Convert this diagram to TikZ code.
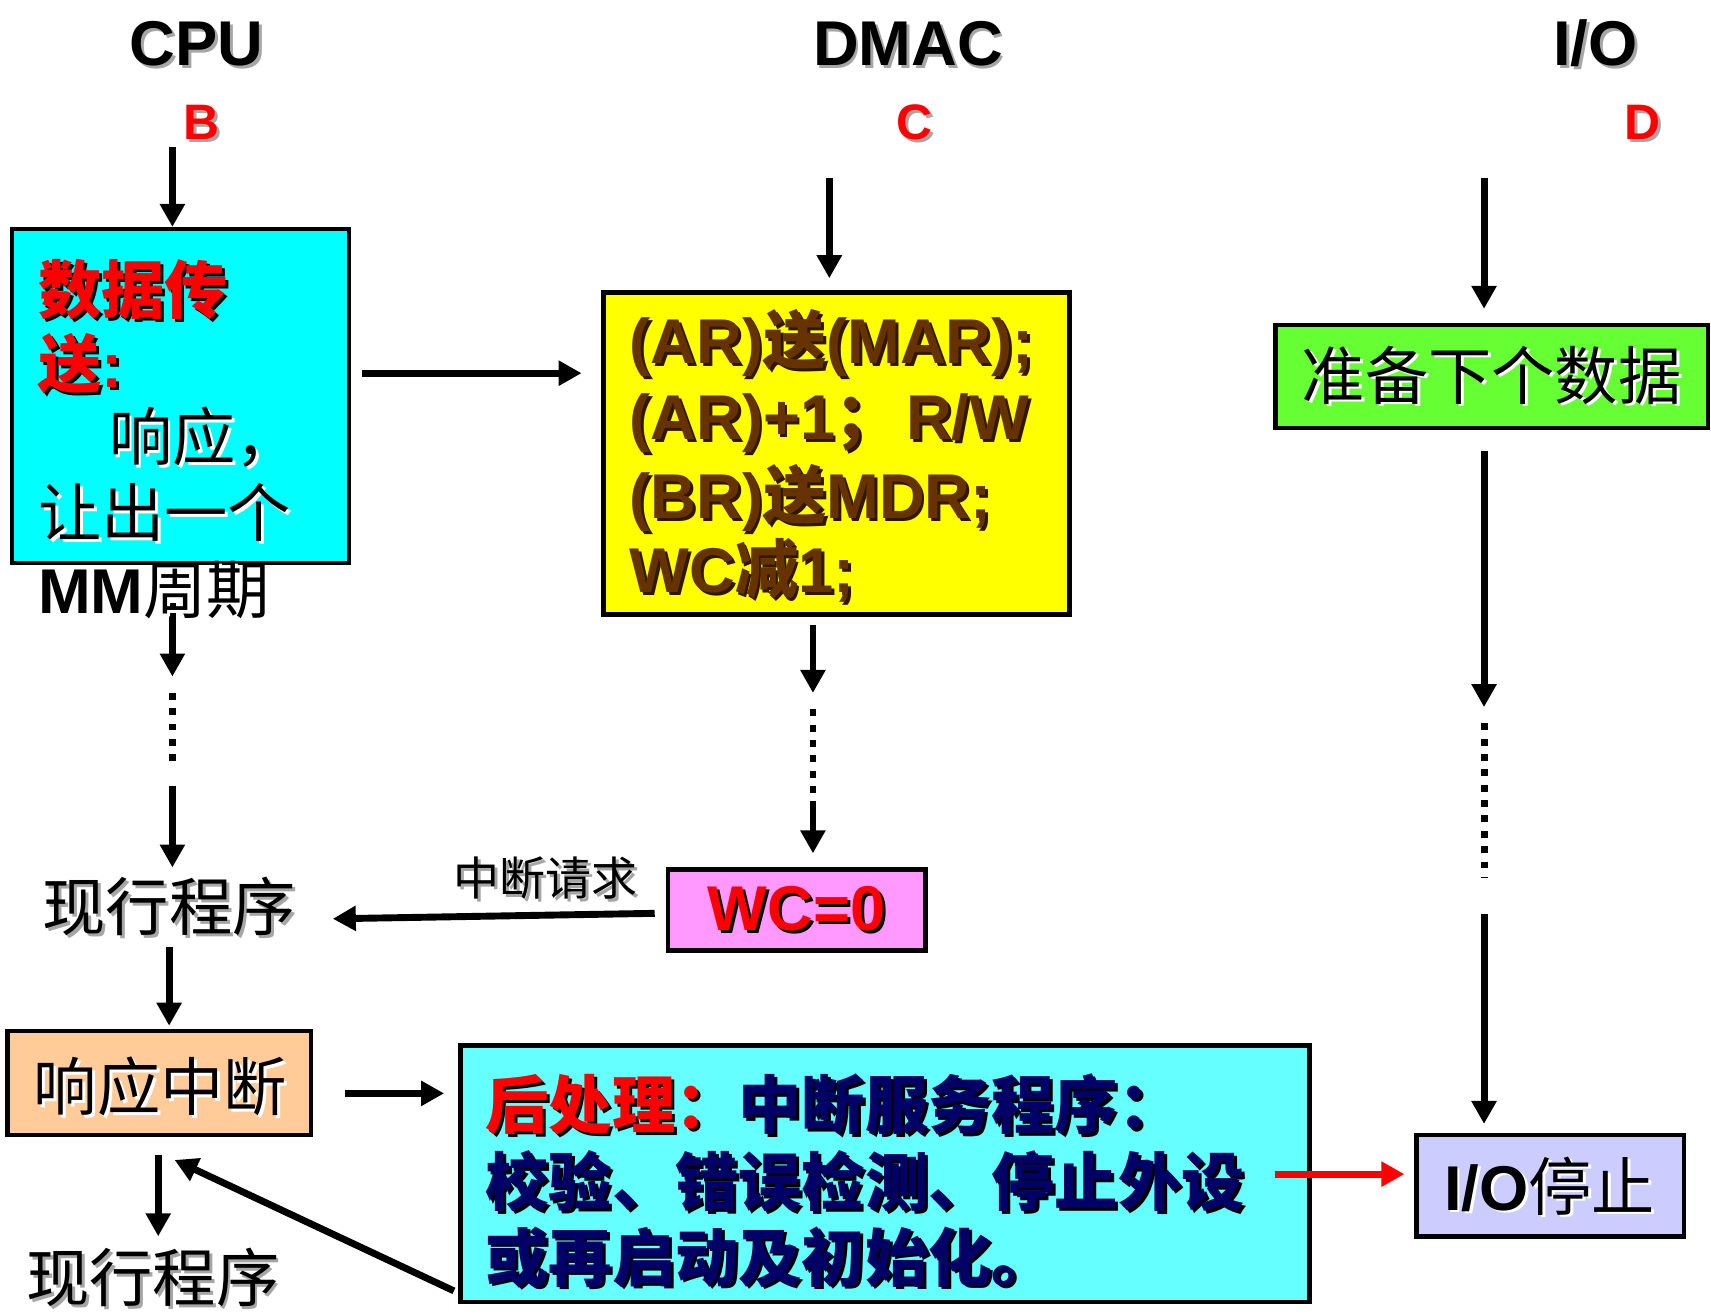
\documentclass[tikz,border=0pt]{standalone}
\usepackage{fontspec}
\setmainfont{Liberation Sans}
\newfontfamily\cjk{Noto Sans CJK SC}
\usetikzlibrary{arrows.meta,fit}
\definecolor{cyanA}{HTML}{00FFFF}
\definecolor{cyanB}{HTML}{66FFFF}
\definecolor{yellowA}{HTML}{FFFF00}
\definecolor{brownA}{HTML}{663300}
\definecolor{greenA}{HTML}{66FF33}
\definecolor{pinkA}{HTML}{FF99FF}
\definecolor{peachA}{HTML}{FFCC99}
\definecolor{lavA}{HTML}{CCCCFF}
\definecolor{navyA}{HTML}{000066}
\definecolor{redA}{HTML}{FF0000}
\definecolor{shgray}{HTML}{A6A6A6}
\definecolor{shbrown}{HTML}{2E1800}
\newcommand\sd[2]{\leavevmode\rlap{\kern1.5pt\lower1.5pt\hbox{\color{#1}#2}}#2}
\newcommand\fsA{\fontsize{33pt}{39pt}\selectfont}
\newcommand\fsB{\fontsize{26pt}{30pt}\selectfont}
\newcommand\fsC{\fontsize{24pt}{28pt}\selectfont}
\begin{document}
\begin{tikzpicture}[x=0.02cm,y=-0.02cm,
  box/.style={draw=black,line width=2.3pt,inner sep=0pt},
  txt/.style={inner sep=0pt,outer sep=0pt,font=\fsA},
  arr/.style={line width=3.6pt,-{Triangle[width=12.5pt,length=12pt]}},
  dots/.style={line width=3.6pt,dash pattern=on 3.6pt off 4.4pt}]
\useasboundingbox (0,0) rectangle (1568,1206);

% boxes
\node[box,fill=cyanA,fit={(11,210)(320,516)}] (cpu) {};
\node[box,fill=yellowA,fit={(553,268)(980,563)}] (dmac) {};
\node[box,fill=greenA,fit={(1169,298)(1565,392)}] (prep) {};
\node[box,fill=pinkA,fit={(612,797)(848,871)}] (wc) {};
\node[box,fill=peachA,fit={(7,945)(285,1040)}] (resp) {};
\node[box,fill=cyanB,fit={(422,958)(1200,1193)}] (post) {};
\node[box,fill=lavA,fit={(1298,1040)(1543,1133)}] (iostop) {};

% coordinates for free ends
\coordinate (b0) at (158,135);
\coordinate (c0) at (760,163);
\coordinate (c1) at (760,255);
\coordinate (d0) at (1360,163);
\coordinate (d1) at (1360,283);
\coordinate (h0) at (332,342);
\coordinate (h1) at (533,342);
\coordinate (p1) at (158,553);
\coordinate (p2) at (158,620);
\coordinate (p3) at (158,635);
\coordinate (p4) at (158,700);
\coordinate (p5) at (158,720);
\coordinate (p6) at (158,795);
\coordinate (m1) at (745,573);
\coordinate (m2) at (745,635);
\coordinate (m3) at (745,650);
\coordinate (m4) at (745,735);
\coordinate (m5) at (745,782);
\coordinate (r1) at (1360,413);
\coordinate (r2) at (1360,648);
\coordinate (r3) at (1360,663);
\coordinate (r4) at (1360,805);
\coordinate (r5) at (1360,838);
\coordinate (r6) at (1360,1030);
\coordinate (w0) at (600,837);
\coordinate (w1) at (305,842);
\coordinate (q0) at (155,868);
\coordinate (q1) at (155,940);
\coordinate (s0) at (316,1002);
\coordinate (s1) at (407,1002);
\coordinate (t0) at (145,1058);
\coordinate (t1) at (145,1133);
\coordinate (u0) at (416,1183);
\coordinate (u1) at (160,1063);
\coordinate (v0) at (1168,1076);
\coordinate (v1) at (1287,1076);

% connectors
\draw[arr] (b0) -- (b0 |- cpu.north);
\draw[arr] (c0) -- (c1);
\draw[arr] (d0) -- (d1);
\draw[arr] (h0) -- (h1);
\draw[arr] (p1) -- (p2);
\draw[dots] (p3) -- (p4);
\draw[arr] (p5) -- (p6);
\draw[arr] (m1) -- (m2);
\draw[dots] (m3) -- (m4);
\draw[arr] (m4) -- (m5);
\draw[arr] (r1) -- (r2);
\draw[dots] (r3) -- (r4);
\draw[arr] (r5) -- (r6);
\draw[arr] (w0) -- (w1);
\draw[arr] (q0) -- (q1);
\draw[arr] (s0) -- (s1);
\draw[arr] (t0) -- (t1);
\draw[arr] (u0) -- (u1);
\draw[arr,draw=redA,fill=redA] (v0) -- (v1);

% titles
\node[txt,anchor=base] (tcpu) at (180,60) {\sd{shgray}{\bfseries CPU}};
\node[txt,anchor=base] (tdmac) at (832,60) {\sd{shgray}{\bfseries DMAC}};
\node[txt,anchor=base] (tio) at (1462,60) {\sd{shgray}{\bfseries I/O}};
\node[txt,anchor=base,font=\fsB,text=redA] (lb) at (185,128) {\sd{shgray}{\bfseries B}};
\node[txt,anchor=base,font=\fsB,text=redA] (lc) at (838,128) {\sd{shgray}{\bfseries C}};
\node[txt,anchor=base,font=\fsB,text=redA] (ld) at (1505,128) {\sd{shgray}{\bfseries D}};

% CPU box text
\node[txt,anchor=base west,text=redA] (ct1) at (35,287) {\sd{black}{\cjk\bfseries 数据传}};
\node[txt,anchor=base west,text=redA] (ct2) at (35,355) {\sd{black}{{\cjk\bfseries 送}\bfseries :}};
\node[txt,anchor=base west] (ct3) at (100,422) {\sd{white}{\cjk 响应，}};
\node[txt,anchor=base west] (ct4) at (35,492) {\sd{white}{\cjk 让出一个}};
\node[txt,anchor=base west] (ct5) at (35,562) {\sd{white}{{\bfseries MM}{\cjk 周期}}};

% DMAC box text
\node[txt,anchor=base west,text=brownA] (dt1) at (577,333) {\sd{shbrown}{\bfseries (AR){\cjk 送}(MAR);}};
\node[txt,anchor=base west,text=brownA] (dt2) at (577,403) {\sd{shbrown}{\bfseries (AR)+1{\cjk ；}\hspace{4pt}R/W}};
\node[txt,anchor=base west,text=brownA] (dt3) at (577,475) {\sd{shbrown}{\bfseries (BR){\cjk 送}MDR;}};
\node[txt,anchor=base west,text=brownA] (dt4) at (577,543) {\sd{shbrown}{\bfseries WC{\cjk 减}1;}};

% right column
\node[txt,anchor=center] (pt) at (prep.center) {\sd{white}{\cjk 准备下个数据}};

% lower part
\node[txt,anchor=center] (cur1) at (155,832) {\sd{shgray}{\cjk 现行程序}};
\node[txt,anchor=center,font=\fsC] (irq) at (500,806) {\sd{shgray}{\cjk 中断请求}};
\node[txt,anchor=center,text=redA] (wct) at (wc.center) {\sd{black}{\bfseries WC=0}};
\node[txt,anchor=center] (rt) at (147,997) {\sd{white}{\cjk 响应中断}};
\node[txt,anchor=center] (cur2) at (140,1172) {\sd{shgray}{\cjk 现行程序}};
\node[txt,anchor=center] (iot) at (1420,1088) {\sd{white}{{\bfseries I/O}{\cjk 停止}}};

\node[txt,anchor=base west] (pl1) at (445,1034) {\leavevmode\rlap{\kern1.5pt\lower1.5pt\hbox{\color{black}\cjk\bfseries 后处理：中断服务程序：}}{\cjk\bfseries\color{redA}后处理：\color{navyA}中断服务程序：}};
\node[txt,anchor=base west,text=navyA] (pl2) at (445,1105) {\sd{black}{\cjk\bfseries 校验、错误检测、停止外设}};
\node[txt,anchor=base west,text=navyA] (pl3) at (445,1174) {\sd{black}{\cjk\bfseries 或再启动及初始化。}};
\end{tikzpicture}
\end{document}
